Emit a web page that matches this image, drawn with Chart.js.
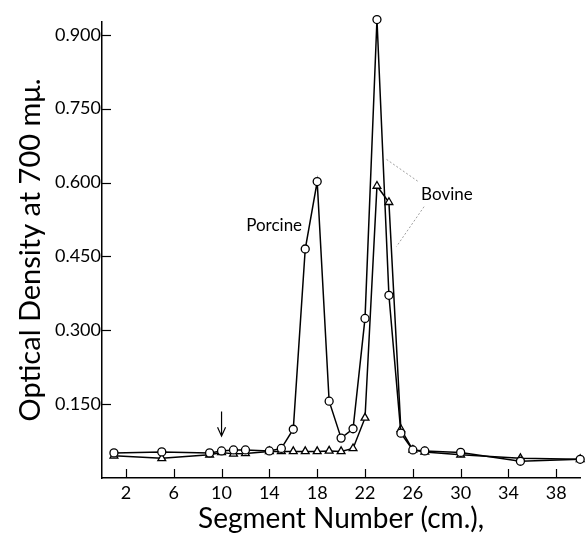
<!DOCTYPE html>
<html>
<head>
<meta charset="utf-8">
<script src="https://cdn.jsdelivr.net/npm/chart.js@4.4.1/dist/chart.umd.min.js"></script>
<style>
  html, body { margin: 0; padding: 0; background: #fff; }
  #wrap { width: 586px; height: 533px; position: relative; }
</style>
</head>
<body>
<div id="wrap"><canvas id="chart_segmentDensity"></canvas></div>
<script>
// segment numbers (cm.) where readings were taken
var porcineX = [1, 5, 9, 10, 11, 12, 14, 15, 16, 17, 18, 19, 20, 21, 22, 23, 24, 25, 26, 27, 30, 35, 40];
var porcineY = [0.051, 0.053, 0.051, 0.055, 0.057, 0.057, 0.055, 0.060, 0.099, 0.465, 0.602, 0.156, 0.081, 0.100, 0.324, 0.931, 0.371, 0.091, 0.057, 0.055, 0.052, 0.034, 0.038];

var bovineX = [1, 5, 9, 10, 11, 12, 14, 15, 16, 17, 18, 19, 20, 21, 22, 23, 24, 25, 26, 27, 30, 35, 40];
var bovineY = [0.045, 0.040, 0.047, 0.052, 0.049, 0.050, 0.054, 0.054, 0.054, 0.054, 0.054, 0.055, 0.054, 0.060, 0.122, 0.593, 0.560, 0.099, 0.057, 0.053, 0.047, 0.040, 0.038];

var xTickValues = [2, 6, 10, 14, 18, 22, 26, 30, 34, 38];
var yTickValues = [0.15, 0.30, 0.45, 0.60, 0.75, 0.90];

function toPoints(xs, ys) {
    return xs.map(function (x, i) { return { x: x, y: ys[i] }; });
}

var FONT = 'Lato, "Liberation Sans", sans-serif';
Chart.defaults.font.family = FONT;
Chart.defaults.color = '#000';

var chart_segmentDensity = new Chart(document.getElementById('chart_segmentDensity'), {
    type: 'line',
    data: {
        datasets: [
            {
                label: 'Porcine',
                data: toPoints(porcineX, porcineY),
                borderColor: '#000',
                borderWidth: 1.5,
                pointStyle: 'circle',
                pointRadius: 4,
                pointBackgroundColor: '#fff',
                pointBorderColor: '#000',
                pointBorderWidth: 1.3,
                tension: 0,
                clip: false
            },
            {
                label: 'Bovine',
                data: toPoints(bovineX, bovineY),
                borderColor: '#000',
                borderWidth: 1.5,
                pointStyle: 'triangle',
                pointRadius: 4.5,
                pointBackgroundColor: '#fff',
                pointBorderColor: '#000',
                pointBorderWidth: 1.3,
                tension: 0,
                clip: false
            }
        ]
    },
    options: {
        animation: false,
        responsive: true,
        maintainAspectRatio: false,
        layout: {
            padding: { top: 22, right: 0, bottom: 0, left: 0 }
        },
        plugins: {
            legend: { display: false },
            tooltip: { enabled: false }
        },
        scales: {
            x: {
                type: 'linear',
                min: 0,
                max: 40,
                grid: { display: false, drawTicks: false },
                border: { color: '#000', width: 1.5 },
                afterBuildTicks: function (scale) {
                    scale.ticks = xTickValues.map(function (v) { return { value: v }; });
                },
                afterFit: function (scale) { scale.height = 55; },
                ticks: {
                    padding: 4,
                    font: { size: 18 },
                    maxRotation: 0,
                    autoSkip: false,
                    callback: function (value) { return String(value); }
                },
                title: {
                    display: true,
                    text: 'Segment Number (cm.),',
                    font: { size: 28, lineHeight: 1 },
                    padding: { top: 0, bottom: 0 }
                }
            },
            y: {
                type: 'linear',
                min: 0,
                max: 0.926,
                grid: { display: false, drawTicks: false },
                border: { color: '#000', width: 1.5 },
                afterBuildTicks: function (scale) {
                    scale.ticks = yTickValues.map(function (v) { return { value: v }; });
                },
                afterFit: function (scale) { scale.width = 102; },
                ticks: {
                    padding: 1,
                    font: { size: 18 },
                    autoSkip: false,
                    callback: function (value) { return value.toFixed(3); }
                },
                title: {
                    display: true,
                    text: 'Optical Density at 700 m\u03bc.',
                    font: { size: 29 },
                    padding: { top: 13, bottom: 0 }
                }
            }
        }
    },
    plugins: [{
        id: 'insideTicksAndNotes',
        afterDraw: function (chart) {
            var ctx = chart.ctx;
            var xs = chart.scales.x, ys = chart.scales.y;
            var area = chart.chartArea;
            ctx.save();
            ctx.strokeStyle = '#000';
            ctx.lineWidth = 1.2;
            // tick marks pointing into the plot
            xTickValues.forEach(function (v) {
                var px = Math.round(xs.getPixelForValue(v)) + 0.5;
                ctx.beginPath();
                ctx.moveTo(px, area.bottom);
                ctx.lineTo(px, area.bottom - 9);
                ctx.stroke();
            });
            yTickValues.forEach(function (v) {
                var py = Math.round(ys.getPixelForValue(v)) + 0.5;
                ctx.beginPath();
                ctx.moveTo(area.left, py);
                ctx.lineTo(area.left + 9, py);
                ctx.stroke();
            });

            // arrow marking the origin at segment 10
            var ax = xs.getPixelForValue(10);
            var aTop = ys.getPixelForValue(0.135);
            var aBot = ys.getPixelForValue(0.085);
            ctx.lineWidth = 1.2;
            ctx.beginPath();
            ctx.moveTo(ax, aTop);
            ctx.lineTo(ax, aBot);
            ctx.moveTo(ax - 4, aBot - 9);
            ctx.lineTo(ax, aBot);
            ctx.lineTo(ax + 4, aBot - 9);
            ctx.stroke();

            // leader lines for the Bovine label
            ctx.strokeStyle = '#888';
            ctx.lineWidth = 0.8;
            ctx.setLineDash([2, 2]);
            ctx.beginPath();
            ctx.moveTo(xs.getPixelForValue(23.8), ys.getPixelForValue(0.647));
            ctx.lineTo(xs.getPixelForValue(26.45), ys.getPixelForValue(0.602));
            ctx.moveTo(xs.getPixelForValue(26.94), ys.getPixelForValue(0.551));
            ctx.lineTo(xs.getPixelForValue(24.63), ys.getPixelForValue(0.470));
            ctx.stroke();
            ctx.setLineDash([]);

            // series labels
            ctx.fillStyle = '#000';
            ctx.font = '17px ' + FONT;
            ctx.textAlign = 'center';
            ctx.textBaseline = 'middle';
            ctx.fillText('Porcine', xs.getPixelForValue(14.4), ys.getPixelForValue(0.512));
            ctx.fillText('Bovine', xs.getPixelForValue(28.85), ys.getPixelForValue(0.575));
            ctx.restore();
        }
    }]
});
</script>
</body>
</html>
